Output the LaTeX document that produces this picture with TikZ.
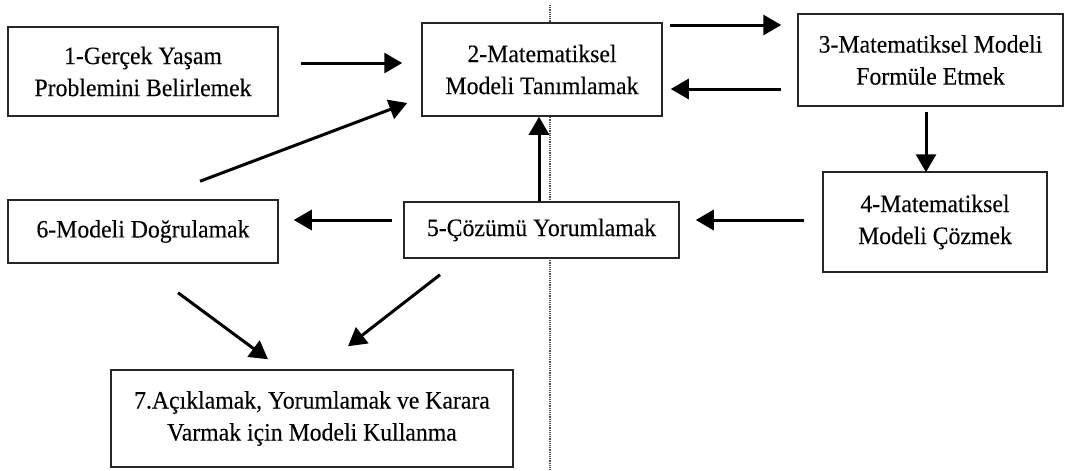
\documentclass[tikz,border=0pt]{standalone}
\usepackage{fontspec}
\setmainfont[FakeStretch=0.95,FakeBold=0.15]{Liberation Serif}
\usetikzlibrary{arrows.meta,calc}
\begin{document}
\begin{tikzpicture}[x=1pt,y=-1pt,
  box/.style={draw=black!85,line width=1.5pt,fill=white,align=center,inner sep=0pt,
    font=\fontsize{25}{32}\selectfont},
  arr/.style={line width=3pt,-{Triangle[length=18pt,width=20pt]}},
  divider/.style={draw=black!70,line width=1.3pt,dash pattern=on 1.2pt off 1pt}]
\useasboundingbox (0,0) rectangle (1066,471);
% vertical divider behind the boxes
\coordinate (dtop) at (550,5);
\coordinate (dbot) at (550,471);
\draw[divider] (dtop) -- (dbot);
% steps
\node[box,minimum width=270pt,minimum height=89pt] (b1) at (143,71.5)
  {1-Gerçek Yaşam\\Problemini Belirlemek};
\node[box,minimum width=240pt,minimum height=93pt] (b2) at (542,69.5)
  {2-Matematiksel\\Modeli Tanımlamak};
\node[box,minimum width=265pt,minimum height=92pt] (b3) at (930.5,60)
  {3-Matematiksel Modeli\\Formüle Etmek};
\node[box,minimum width=224pt,minimum height=100pt] (b4) at (935,222)
  {4-Matematiksel\\Modeli Çözmek};
\node[box,minimum width=275pt,minimum height=56pt] (b5) at (541.5,230)
  {5-Çözümü Yorumlamak};
\node[box,minimum width=270pt,minimum height=63pt] (b6) at (143,231.5)
  {6-Modeli Doğrulamak};
\node[box,minimum width=402pt,minimum height=97pt] (b7) at (312,418.5)
  {7.Açıklamak, Yorumlamak ve Karara\\Varmak için Modeli Kullanma};
% connectors
\draw[arr] ($(b1.east)+(22,-8.5)$) -- ($(b2.west)+(-19,-6.5)$);
\draw[arr] ($(b6.north)+(57,-18)$) -- ($(b2.west)+(-14,33.5)$);
\draw[arr] ($(b2.east)+(7,-44.5)$) -- ($(b3.west)+(-16,-35)$);
\draw[arr] ($(b3.west)+(-16,29)$) -- ($(b2.east)+(8,19.5)$);
\draw[arr] ($(b3.south)+(-4.5,5)$) -- ($(b4.north)+(-9,1)$);
\draw[arr] ($(b4.west)+(-18,-2)$) -- ($(b5.east)+(16,-10)$);
\draw[arr] ($(b5.west)+(-11,-10)$) -- ($(b6.east)+(15,-11.5)$);
\draw[arr] ($(b5.north)+(-2.5,0)$) -- ($(b2.south)+(-3,0)$);
\draw[arr] ($(b6.south)+(35,29)$) -- ($(b7.north)+(-44,-10)$);
\draw[arr] ($(b5.south)+(-101.5,16)$) -- ($(b7.north)+(36,-23)$);
\end{tikzpicture}
\end{document}
